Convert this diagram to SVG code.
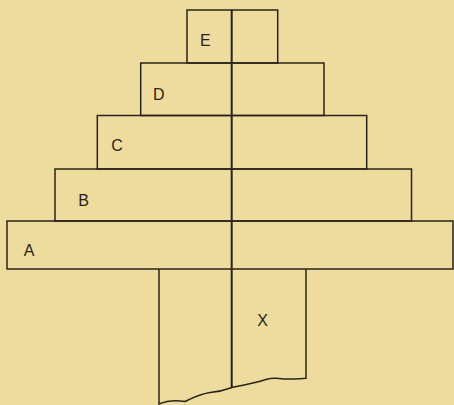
<svg xmlns="http://www.w3.org/2000/svg" width="454" height="405" viewBox="0 0 454 405">
<style>
.blk{fill:none;stroke:#2a2319;stroke-width:1.5}
.ctr{fill:none;stroke:#2a2319;stroke-width:2}
.lbl{font-family:"Liberation Sans",Arial,sans-serif;font-size:16px;fill:#2a2319;text-anchor:middle}
</style>
<rect width="454" height="405" fill="#eedc9f"/>
<g id="stem">
<path class="blk" d="M159,269 V404 C166,401 176,400 185,401.5 C192,398 200,394 210,392.5 C222,391.5 228,389 232,387.5 C242,385.5 255,383 266,379.5 C272,377.5 278,378 284,379 C292,379.5 300,378.5 306,378.3 V269"/>
<text class="lbl" x="262.5" y="326">X</text>
</g>
<g id="A">
<rect class="blk" x="7" y="221" width="446" height="48"/>
<text class="lbl" x="29" y="256">A</text>
</g>
<g id="B">
<rect class="blk" x="55" y="169" width="356.5" height="52"/>
<text class="lbl" x="83.5" y="206">B</text>
</g>
<g id="C">
<rect class="blk" x="97.3" y="115.5" width="269.4" height="53.5"/>
<text class="lbl" x="117" y="151">C</text>
</g>
<g id="D">
<rect class="blk" x="140.7" y="63" width="183.3" height="52.5"/>
<text class="lbl" x="158.7" y="100">D</text>
</g>
<g id="E">
<rect class="blk" x="187" y="10" width="90.7" height="53"/>
<text class="lbl" x="205.3" y="46">E</text>
</g>
<g id="connectors">
<line class="ctr" x1="231.7" y1="10" x2="231.7" y2="388"/>
</g>
</svg>
